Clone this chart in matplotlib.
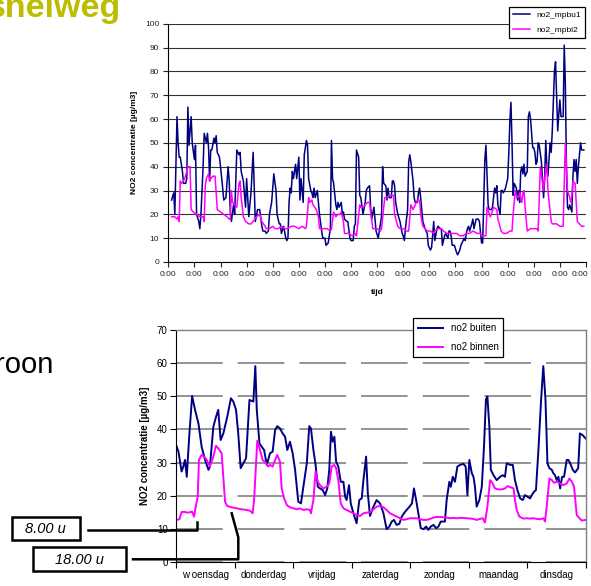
import matplotlib
matplotlib.use('Agg')
import matplotlib.pyplot as plt
import matplotlib.transforms as mtransforms
from matplotlib.patches import Rectangle

plt.rcParams['font.family'] = ['Liberation Sans', 'DejaVu Sans']

NAVY = '#000080'
MAGENTA = '#ff00ff'

# bovenste grafiek: (uur vanaf start, NO2 in ug/m3)
mpbu1 = [(3,26),(5,29),(6,20),(8,61),(9,50),(10,44),(11,44),(13,38),(14,33),(16,33),(17,35),(18,65),(19,49),(21,61),(22,50),(24,43),(25,49),(26,20),(28,17),(29,14),(30,20),(32,40),(33,54),(35,50),(36,54),(37,48),(38,34),(39,47),(40,47),(42,52),(43,50),(44,53),(45,46),(47,44),(48,40),(50,31),(51,26),(53,27),(55,40),(56,34),(57,21),(58,17),(60,24),(61,20),(63,47),(65,45),(66,46),(67,38),(69,34),(71,23),(72,35),(74,19),(76,29),(78,46),(80,17),(82,22),(84,22),(86,15),(87,13),(89,13),(90,12),(92,13),(93,20),(95,25),(97,37),(99,30),(100,20),(102,16),(103,16),(104,12),(106,15),(108,10),(109,9),(110,10),(111,25),(112,31),(113,29),(114,38),(115,35),(117,41),(118,35),(120,44),(121,26),(122,35),(124,25),(125,45),(127,51),(128,49),(129,35),(131,30),(132,29),(133,27),(134,31),(135,27),(137,30),(138,25),(139,20),(141,13),(142,10),(144,10),(145,7),(147,8),(149,14),(150,51),(151,35),(152,33),(154,24),(155,22),(156,25),(157,23),(159,25),(160,20),(161,21),(162,18),(164,17),(165,17),(167,10),(168,9),(170,9),(171,15),(172,16),(173,47),(175,44),(176,28),(177,27),(179,20),(181,25),(182,30),(183,31),(185,32),(186,23),(187,18),(189,23),(191,13),(193,10),(194,13),(196,19),(197,40),(198,33),(200,32),(201,26),(202,31),(203,27),(205,27),(206,34),(207,34),(208,32),(209,25),(211,20),(213,17),(215,12),(216,11),(217,9),(218,14),(220,22),(221,42),(222,45),(223,42),(225,34),(226,27),(227,25),(229,25),(230,29),(231,31),(232,27),(234,17),(236,14),(238,12),(239,7),(241,5),(242,6),(243,11),(244,17),(245,9),(247,14),(248,15),(250,14),(251,14),(252,7),(253,9),(254,11),(255,12),(257,10),(258,13),(259,13),(260,11),(261,7),(263,7),(265,4),(266,3),(268,5),(269,7),(270,8),(272,10),(273,9),(274,12),(275,14),(276,15),(277,13),(279,16),(280,18),(281,14),(283,18),(284,18),(285,18),(286,17),(288,8),(289,8),(291,43),(292,49),(294,24),(295,22),(297,22),(298,23),(300,31),(301,29),(302,32),(303,24),(305,20),(306,30),(307,30),(308,29),(310,31),(311,33),(312,35),(313,45),(314,59),(315,67),(316,50),(317,28),(318,33),(320,31),(321,26),(322,30),(323,25),(324,38),(325,40),(326,37),(327,41),(328,36),(330,38),(331,61),(332,63),(333,60),(335,48),(336,48),(337,46),(338,41),(339,42),(340,50),(341,49),(343,42),(344,35),(345,27),(346,35),(347,51),(348,40),(349,36),(351,50),(352,46),(353,55),(355,80),(356,84),(357,70),(358,55),(359,62),(360,68),(361,61),(363,61),(364,91),(365,75),(366,40),(367,23),(368,22),(369,24),(371,21),(372,36),(373,43),(374,38),(375,43),(376,33),(377,40),(379,50),(380,47),(382,47)]

mpbi2 = [(3,19),(6,19),(8,18),(9,19),(10,17),(11,34),(12,33),(14,34),(15,35),(17,38),(18,40),(20,40),(21,22),(23,21),(26,20),(29,19),(32,19),(33,17),(34,32),(35,35),(37,37),(38,34),(39,35),(41,36),(43,36),(45,22),(48,21),(51,20),(54,19),(56,18),(57,18),(58,30),(59,25),(61,24),(63,23),(65,33),(66,34),(67,27),(69,19),(71,17),(74,16),(76,16),(78,17),(81,19),(84,20),(86,17),(89,15),(90,14),(93,14),(96,15),(98,14),(101,14),(104,15),(107,14),(110,14),(113,15),(116,15),(120,14),(123,15),(126,14),(127,15),(129,27),(130,25),(132,26),(133,24),(136,22),(138,19),(139,14),(143,14),(146,14),(149,13),(150,14),(152,21),(154,19),(156,20),(158,20),(159,21),(161,17),(162,12),(166,12),(169,11),(172,12),(173,11),(176,24),(177,23),(179,23),(181,24),(183,25),(185,25),(186,21),(188,14),(192,14),(195,13),(196,14),(199,27),(201,27),(203,28),(205,28),(207,28),(208,20),(211,15),(213,14),(216,14),(219,13),(221,13),(223,24),(225,22),(227,24),(229,26),(231,26),(232,20),(234,15),(238,13),(241,13),(244,12),(245,13),(248,14),(251,14),(253,13),(256,12),(259,12),(262,12),(265,12),(268,11),(271,11),(274,12),(277,12),(280,13),(284,12),(287,12),(288,11),(290,11),(292,11),(293,23),(296,19),(297,20),(299,23),(302,22),(303,18),(306,13),(308,12),(311,12),(314,13),(316,13),(317,20),(319,30),(320,28),(322,27),(323,29),(325,25),(326,29),(327,30),(328,23),(330,13),(333,14),(336,14),(339,14),(340,13),(342,40),(345,30),(346,35),(348,41),(349,30),(352,17),(353,16),(357,16),(360,15),(363,15),(365,50),(367,30),(369,27),(370,25),(371,28),(372,34),(374,33),(375,25),(376,17),(378,16),(380,15),(382,15)]

# onderste grafiek: (uur vanaf woensdag 0:00, NO2 in ug/m3)
buiten = [(0.3,34.8),(1.0,33.3),(2.3,27.3),(3.0,28.8),(3.7,30.8),(4.4,25.7),(5.5,38.8),(6.6,50.1),(7.8,45.9),(9.2,41.8),(10.5,34.8),(11.9,30.8),(13.3,27.8),(13.9,28.8),(15.3,40.8),(16.4,43.8),(17.3,45.9),(18.3,36.8),(19.4,38.8),(21.0,43.8),(22.5,49.4),(23.5,48.4),(24.6,45.9),(25.5,38.8),(26.5,28.3),(27.6,29.8),(28.7,31.3),(30.1,48.9),(31.7,48.4),(32.5,59.1),(33.1,45.9),(34.2,35.8),(35.1,34.8),(36.1,33.8),(37.2,29.3),(38.5,32.8),(39.6,33.3),(40.6,39.8),(41.5,41.0),(42.6,40.3),(43.7,38.8),(44.7,37.8),(45.6,33.8),(46.7,36.3),(47.8,32.8),(48.8,27.8),(50.1,18.2),(51.2,17.7),(52.2,22.7),(53.6,29.8),(54.6,41.0),(55.3,40.3),(56.3,33.8),(57.2,29.3),(58.1,22.7),(59.0,22.2),(60.1,21.7),(61.1,20.2),(62.0,22.2),(62.8,27.8),(63.5,39.3),(64.2,36.3),(64.9,37.8),(65.6,30.3),(66.5,28.8),(67.5,24.2),(68.6,24.2),(69.3,19.7),(69.9,18.7),(70.9,23.2),(71.6,17.7),(72.7,14.7),(74.0,11.7),(75.1,18.7),(76.1,19.2),(76.8,24.7),(77.9,31.8),(78.6,20.7),(79.5,13.9),(80.9,16.7),(82.2,18.7),(83.6,17.7),(85.0,14.7),(86.3,9.9),(87.4,10.7),(88.4,12.2),(89.3,12.7),(90.4,11.2),(91.5,11.5),(92.5,13.7),(93.4,14.7),(94.5,15.7),(95.9,16.9),(96.7,17.7),(97.5,22.2),(98.4,18.7),(99.5,13.7),(100.3,10.2),(101.4,9.9),(102.5,10.7),(103.4,9.7),(104.4,10.7),(105.5,11.2),(106.6,10.2),(107.5,10.7),(108.5,12.2),(110.2,12.2),(110.9,18.7),(112.0,24.2),(112.6,22.7),(113.4,25.7),(114.3,24.2),(115.3,28.8),(116.4,29.3),(117.8,29.6),(118.7,28.8),(119.4,20.2),(120.2,30.8),(121.2,26.8),(121.9,25.7),(122.5,22.7),(123.2,16.7),(124.3,18.7),(125.3,22.7),(126.2,34.8),(127.0,49.1),(127.6,49.9),(128.4,40.8),(129.0,27.8),(130.1,26.2),(131.4,24.7),(132.8,25.7),(133.9,26.2),(134.8,25.7),(135.5,29.8),(136.9,29.3),(138.0,29.3),(138.9,24.7),(139.9,21.7),(141.0,19.2),(142.1,18.7),(143.0,20.2),(144.0,19.7),(145.1,19.2),(145.8,20.2),(146.7,21.2),(147.5,21.7),(148.5,33.8),(149.6,48.9),(150.5,59.1),(151.4,48.9),(152.2,29.8),(153.0,28.3),(154.0,27.8),(154.6,26.8),(155.3,26.2),(156.0,24.7),(156.7,25.7),(157.4,22.2),(158.2,25.7),(159.0,25.7),(160.1,30.8),(160.8,30.8),(161.5,29.8),(162.6,27.8),(163.5,27.0),(164.8,28.3),(165.5,38.8),(166.6,38.3),(167.8,37.3)]

binnen = [(0.3,12.7),(1.4,12.9),(2.3,15.1),(3.7,15.1),(4.6,14.9),(5.7,15.0),(6.6,15.2),(7.4,13.7),(8.2,17.2),(8.9,19.7),(9.4,30.8),(10.5,32.3),(11.5,31.8),(12.6,30.8),(13.9,28.8),(15.3,31.8),(16.4,35.1),(17.3,34.3),(18.7,32.8),(19.4,25.7),(20.1,18.2),(21.0,16.9),(22.8,16.5),(24.9,16.2),(26.9,15.9),(28.9,15.7),(30.3,15.5),(31.4,14.7),(32.0,18.7),(33.3,36.6),(34.4,33.8),(35.5,30.8),(36.9,29.8),(37.8,28.8),(38.5,29.3),(39.6,28.8),(40.6,30.8),(41.5,32.3),(42.6,30.3),(43.3,22.2),(44.3,19.2),(45.4,17.2),(46.7,16.5),(48.1,16.2),(49.5,15.9),(50.8,16.2),(52.2,15.7),(53.6,15.9),(54.9,15.7),(55.3,14.7),(56.3,18.7),(57.2,27.3),(58.1,24.2),(59.0,23.2),(60.4,22.2),(61.7,22.7),(62.8,23.7),(63.8,28.8),(64.8,29.3),(65.6,28.3),(66.5,24.7),(67.5,17.7),(68.6,16.2),(69.9,15.7),(71.3,15.2),(72.7,14.7),(74.0,14.2),(75.4,13.9),(76.8,14.7),(78.1,14.9),(79.5,15.0),(80.9,15.9),(82.2,16.7),(83.6,16.9),(85.0,16.5),(86.3,15.7),(87.7,14.7),(89.1,14.2),(90.4,13.7),(91.8,13.2),(93.2,12.7),(94.5,12.9),(95.9,13.2),(97.3,13.2),(98.6,13.2),(100.0,12.9),(101.4,12.7),(102.7,12.7),(104.1,13.0),(105.5,13.4),(106.8,13.6),(108.2,13.6),(109.6,13.5),(110.9,13.4),(112.3,13.2),(113.7,13.3),(115.0,13.2),(116.4,13.3),(117.8,13.3),(119.1,13.2),(120.5,13.1),(121.9,13.0),(123.2,12.7),(124.6,13.0),(125.7,13.2),(126.6,11.9),(127.6,16.7),(128.7,24.7),(129.6,23.9),(130.7,22.2),(132.1,21.9),(133.5,21.9),(134.8,22.2),(135.9,22.9),(137.2,22.5),(138.3,22.2),(138.9,18.7),(139.6,15.7),(140.7,13.7),(142.3,13.1),(143.7,13.2),(145.1,13.1),(146.4,13.2),(147.8,13.0),(149.2,12.9),(150.5,13.2),(151.2,12.2),(151.9,16.7),(153.0,25.2),(154.0,24.7),(154.9,23.9),(156.0,24.2),(157.4,23.7),(158.7,23.2),(160.1,23.7),(161.2,25.2),(162.2,24.2),(163.1,22.7),(164.2,14.2),(165.3,13.2),(166.3,12.5),(167.8,12.7)]

dagen = ['w oensdag', 'donderdag', 'vrijdag', 'zaterdag', 'zondag', 'maandag', 'dinsdag']
top_ticks = ['0:00'] * 17

W, H = 591, 586
def box(l, t, r, b):
    # pixel-rechthoek -> figuurfracties
    return [l / W, 1 - b / H, (r - l) / W, (b - t) / H]

fig = plt.figure(figsize=(W / 100, H / 100), dpi=100)

# ---- bovenste grafiek ----
ax1 = fig.add_axes(box(168.3, 23.7, 586, 262))
x, y = zip(*mpbu1)
ax1.plot(x, y, color=NAVY, lw=1.1, label='no2_mpbu1')
x, y = zip(*mpbi2)
ax1.plot(x, y, color=MAGENTA, lw=1.1, label='no2_mpbi2')
ax1.set_xlim(0, 384)
ax1.set_ylim(0, 100)
ax1.set_xticks(range(0, 385, 24))
ax1.set_xticklabels(top_ticks)
ax1.set_yticks(range(0, 101, 10))
ax1.tick_params(labelsize=6, length=3.5, width=0.8, pad=3, colors='#222222')
# laatste label iets naar links, zoals in het origineel
lbl = ax1.get_xticklabels()[-1]
lbl.set_transform(lbl.get_transform() + mtransforms.ScaledTranslation(-6 / 100, 0, fig.dpi_scale_trans))
ax1.set_axisbelow(True)
ax1.grid(axis='y', color='#333333', lw=0.8)
ax1.spines['top'].set_visible(False)
ax1.spines['right'].set_visible(False)
ax1.set_ylabel('NO2 concentratie [µg/m3]', fontsize=6, fontweight='bold', labelpad=5)
ax1.set_xlabel('tijd', fontsize=6, fontweight='bold', labelpad=8)
leg1 = ax1.legend(loc='upper right', bbox_to_anchor=(585 / W, 1 - 6.7 / H),
                  bbox_transform=fig.transFigure, fontsize=6, fancybox=False,
                  framealpha=1, edgecolor='black', borderaxespad=0,
                  handlelength=2.0, labelspacing=0.9, borderpad=0.5)
leg1.get_frame().set_linewidth(0.9)

# ---- onderste grafiek ----
ax2 = fig.add_axes(box(176, 330, 586, 562))
x, y = zip(*buiten)
ax2.plot(x, y, color=NAVY, lw=1.4, label='no2 buiten')
x, y = zip(*binnen)
ax2.plot(x, y, color=MAGENTA, lw=1.4, label='no2 binnen')
ax2.set_xlim(0, 168)
ax2.set_ylim(0, 70)
ax2.set_yticks(range(0, 71, 10))
ax2.set_xticks(range(0, 169, 24))
ax2.set_xticklabels([])
ax2.set_xticks(range(12, 168, 24), minor=True)
ax2.set_xticklabels(dagen, minor=True)
ax2.tick_params(axis='x', which='minor', length=0, labelsize=7, pad=6)
ax2.tick_params(axis='x', which='major', length=4, width=0.8)
ax2.tick_params(axis='y', labelsize=7, length=4, width=0.8, pad=2)
ax2.set_axisbelow(True)
ax2.grid(axis='y', color='#808080', lw=1.2, linestyle=(0, (28, 9)))
for s in ['top', 'right']:
    ax2.spines[s].set_color('#808080')
    ax2.spines[s].set_linewidth(1.0)
ax2.set_ylabel('NO2 concentratie [µg/m3]', fontsize=7, fontweight='bold', labelpad=5)
leg2 = ax2.legend(loc='upper left', bbox_to_anchor=(412.7 / W, 1 - 318.3 / H),
                  bbox_transform=fig.transFigure, fontsize=7, fancybox=False,
                  framealpha=1, edgecolor='black', borderaxespad=0,
                  handlelength=2.6, labelspacing=0.9, borderpad=0.5)
leg2.get_frame().set_linewidth(0.9)

# ---- dia-tekst en aanduidingen (deels buiten beeld, zoals in de dia) ----
fig.text(121 / W, 1 - 17 / H, 'snelweg', ha='right', va='baseline',
         fontsize=24.5, fontweight='bold', color='#bdbd00')
fig.text(53 / W, 1 - 373 / H, 'roon', ha='right', va='baseline', fontsize=21)

ov = fig.add_axes([0, 0, 1, 1])
ov.set_xlim(0, W)
ov.set_ylim(H, 0)
ov.axis('off')
ov.patch.set_alpha(0)
ov.add_patch(Rectangle((11.7, 517.3), 68.3, 22.7, fill=False, lw=1.8, ec='black'))
ov.add_patch(Rectangle((33.3, 547.3), 92.4, 23.4, fill=False, lw=1.8, ec='black'))
ov.text(45.8, 529, '8.00 u', ha='center', va='center', fontsize=10.5, style='italic')
ov.text(79.5, 559.5, '18.00 u', ha='center', va='center', fontsize=10.5, style='italic')
ov.plot([88, 197, 197], [529.5, 529.5, 521.5], color='black', lw=1.8)
ov.plot([133, 238.3, 238.3, 231.7], [559.3, 559.3, 537.3, 513.3], color='black', lw=1.8)

fig.savefig('out.png', dpi=100)
